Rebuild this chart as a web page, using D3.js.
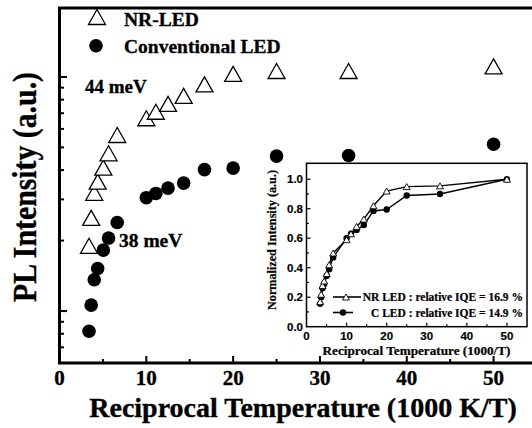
<!DOCTYPE html>
<html>
<head>
<meta charset="utf-8">
<script src="https://cdn.jsdelivr.net/npm/d3@7"></script>
<style>
  body { margin: 0; background: #fff; }
  text { font-family: "Liberation Serif", "Times New Roman", serif; font-weight: bold; fill: #000; stroke: #000; stroke-width: 0.35px; }
  .sans { font-family: "Liberation Sans", Arial, sans-serif; stroke-width: 0.2px; }
</style>
</head>
<body>
<svg id="chart" width="532" height="428"></svg>
<script>
// main plot: reciprocal temperature (1000/T) vs PL intensity (log, a.u.)
var recipTemp = [3.4, 3.65, 4.0, 4.4, 5.05, 5.65, 6.65, 10, 11.1, 12.5, 14.3, 16.7, 20, 25, 33.3, 50];
var nrLed = [1.9, 2.5, 3.2, 3.57, 4.1, 4.72, 5.65, 6.66, 7.1, 7.67, 8.3, 9.3, 10.3, 10.6, 10.6, 11.1];
var convLed = [0.82, 1.06, 1.36, 1.52, 1.82, 2.05, 2.39, 3.05, 3.18, 3.35, 3.52, 4.02, 4.08, 4.59, 4.62, 5.16];
var xTicks = [0, 10, 20, 30, 40, 50];

// inset: normalized intensity
var insetNr = [0.17, 0.22, 0.28, 0.31, 0.36, 0.42, 0.50, 0.59, 0.63, 0.68, 0.73, 0.82, 0.92, 0.95, 0.955, 1.0];
var insetC = [0.155, 0.20, 0.26, 0.29, 0.345, 0.39, 0.47, 0.60, 0.63, 0.655, 0.69, 0.785, 0.795, 0.89, 0.90, 1.0];
var insetYTicks = [0, 0.2, 0.4, 0.6, 0.8, 1.0];
var legendLabels = ["NR-LED", "Conventional LED"];
var insetLegend = ["NR LED : relative IQE = 16.9 %", "C LED : relative IQE = 14.9 %"];
var annotations = ["44 meV", "38 meV"];

(function() {
  var svg = d3.select("#chart");

  var x = d3.scaleLinear().domain([0, 55]).range([59.5, 537]);
  var y = d3.scaleLog().domain([0.6, 19.7]).range([363, 8]);

  function triangle(w, h) {
    return "M0," + (-h / 2) + "L" + (w / 2) + "," + (h / 2) + "L" + (-w / 2) + "," + (h / 2) + "Z";
  }

  // frame (right side runs off the picture)
  svg.append("path")
    .attr("d", "M" + x(55) + "," + y.range()[1] + "L" + x(0) + "," + y.range()[1] + "L" + x(0) + "," + y.range()[0] + "L" + x(55) + "," + y.range()[0])
    .attr("fill", "none").attr("stroke", "#000").attr("stroke-width", 3);

  // y ticks, log minor ticks, no labels
  var yt = [];
  [0.1, 1, 10].forEach(function(d) {
    for (var k = 1; k < 10; k++) {
      var v = d * k;
      if (v >= 0.6 && v <= 19.7) yt.push({v: v, major: k == 1});
    }
  });
  svg.selectAll("line.ytick").data(yt).enter().append("line")
    .attr("class", "ytick")
    .attr("x1", x(0)).attr("x2", d => x(0) + (d.major ? 7.5 : 4.5))
    .attr("y1", d => y(d.v)).attr("y2", d => y(d.v))
    .attr("stroke", "#000").attr("stroke-width", 2);

  // x ticks
  var xt = d3.range(5, 55, 5);
  svg.selectAll("line.xtick").data(xt).enter().append("line")
    .attr("class", "xtick")
    .attr("x1", d => x(d)).attr("x2", d => x(d))
    .attr("y1", 363).attr("y2", d => 363 - (d % 10 == 0 ? 7 : 4))
    .attr("stroke", "#000").attr("stroke-width", 2);

  svg.selectAll("text.xlab").data(xTicks).enter().append("text")
    .attr("class", "xlab")
    .attr("x", d => x(d)).attr("y", 385)
    .attr("text-anchor", "middle").attr("font-size", 21)
    .text(d => d);

  svg.append("text")
    .attr("x", 303).attr("y", 417)
    .attr("text-anchor", "middle").attr("font-size", 28)
    .text("Reciprocal Temperature (1000 K/T)");

  svg.append("text")
    .attr("transform", "translate(36,187) rotate(-90)")
    .attr("text-anchor", "middle").attr("font-size", 33)
    .attr("textLength", 230).attr("lengthAdjust", "spacingAndGlyphs")
    .text("PL Intensity (a.u.)");

  // data
  svg.selectAll("path.nr").data(nrLed).enter().append("path")
    .attr("class", "nr")
    .attr("transform", (d, i) => "translate(" + x(recipTemp[i]) + "," + y(d) + ")")
    .attr("d", triangle(17, 15))
    .attr("fill", "#fff").attr("stroke", "#000").attr("stroke-width", 1.3);

  svg.selectAll("circle.conv").data(convLed).enter().append("circle")
    .attr("class", "conv")
    .attr("cx", (d, i) => x(recipTemp[i])).attr("cy", d => y(d))
    .attr("r", 6.8).attr("fill", "#000");

  // legend
  svg.append("path").attr("transform", "translate(97,17)").attr("d", triangle(17, 15))
    .attr("fill", "#fff").attr("stroke", "#000").attr("stroke-width", 1.3);
  svg.append("circle").attr("cx", 96).attr("cy", 45.7).attr("r", 6.8).attr("fill", "#000");
  svg.selectAll("text.leg").data(legendLabels).enter().append("text")
    .attr("class", "leg")
    .attr("x", 124).attr("y", (d, i) => 26 + i * 26.7)
    .attr("font-size", 19.5)
    .text(d => d);

  svg.append("text").attr("x", 85).attr("y", 93).attr("font-size", 19).text(annotations[0]);
  svg.append("text").attr("x", 119).attr("y", 247).attr("font-size", 19.5).text(annotations[1]);

  // ---- inset ----
  var ix = d3.scaleLinear().domain([0, 55]).range([306.5, 527]);
  var iy = d3.scaleLinear().domain([0, 1.108]).range([326.7, 163.3]);
  var inset = svg.append("g");

  inset.append("rect")
    .attr("x", ix(0)).attr("y", iy(1.108))
    .attr("width", ix(55) - ix(0)).attr("height", iy(0) - iy(1.108))
    .attr("fill", "#fff").attr("stroke", "#000").attr("stroke-width", 1.5);

  inset.selectAll("line.ixt").data(d3.range(5, 55, 5)).enter().append("line")
    .attr("class", "ixt")
    .attr("x1", d => ix(d)).attr("x2", d => ix(d))
    .attr("y1", iy(0)).attr("y2", d => iy(0) - (d % 10 == 0 ? 4 : 2.5))
    .attr("stroke", "#000").attr("stroke-width", 1.2);
  inset.selectAll("line.iyt").data(d3.range(0.1, 1.1, 0.1)).enter().append("line")
    .attr("class", "iyt")
    .attr("x1", ix(0)).attr("x2", (d, i) => ix(0) + (i % 2 == 1 ? 4 : 2.5))
    .attr("y1", d => iy(d)).attr("y2", d => iy(d))
    .attr("stroke", "#000").attr("stroke-width", 1.2);

  inset.selectAll("text.ixl").data(xTicks).enter().append("text")
    .attr("class", "ixl sans")
    .attr("x", d => ix(d)).attr("y", 340)
    .attr("text-anchor", "middle").attr("font-size", 11.5)
    .text(d => d);
  inset.selectAll("text.iyl").data(insetYTicks).enter().append("text")
    .attr("class", "iyl sans")
    .attr("x", 303).attr("y", d => iy(d) + 4)
    .attr("text-anchor", "end").attr("font-size", 11.5)
    .text(d => d3.format(".1f")(d));

  inset.append("text")
    .attr("x", 416.5).attr("y", 354.5)
    .attr("text-anchor", "middle").attr("font-size", 11.5)
    .attr("textLength", 188).attr("lengthAdjust", "spacingAndGlyphs")
    .style("stroke-width", "0.2px")
    .text("Reciprocal Temperature (1000/T)");
  inset.append("text")
    .attr("transform", "translate(276,240) rotate(-90)")
    .attr("text-anchor", "middle").attr("font-size", 12)
    .attr("textLength", 140).attr("lengthAdjust", "spacingAndGlyphs")
    .style("stroke-width", "0.2px")
    .text("Normalized Intensity (a.u.)");

  var line = d3.line().x((d, i) => ix(recipTemp[i])).y(d => iy(d));
  inset.append("path").attr("d", line(insetC))
    .attr("fill", "none").attr("stroke", "#000").attr("stroke-width", 1.4);
  inset.append("path").attr("d", line(insetNr))
    .attr("fill", "none").attr("stroke", "#000").attr("stroke-width", 1.4);

  inset.selectAll("circle.ic").data(insetC).enter().append("circle")
    .attr("class", "ic")
    .attr("cx", (d, i) => ix(recipTemp[i])).attr("cy", d => iy(d))
    .attr("r", 3.2).attr("fill", "#000");
  inset.selectAll("path.in").data(insetNr).enter().append("path")
    .attr("class", "in")
    .attr("transform", (d, i) => "translate(" + ix(recipTemp[i]) + "," + iy(d) + ")")
    .attr("d", triangle(7, 6))
    .attr("fill", "#fff").attr("stroke", "#000").attr("stroke-width", 0.9);

  // inset legend
  var legY = [297, 312.5];
  legY.forEach(function(ly, i) {
    inset.append("line").attr("x1", 333).attr("x2", i == 0 ? 361 : 353)
      .attr("y1", ly).attr("y2", ly)
      .attr("stroke", "#000").attr("stroke-width", 1.6);
    if (i == 0) {
      inset.append("path").attr("transform", "translate(346," + ly + ")").attr("d", triangle(7, 6))
        .attr("fill", "#fff").attr("stroke", "#000").attr("stroke-width", 0.9);
    } else {
      inset.append("circle").attr("cx", 343).attr("cy", ly).attr("r", 3.2).attr("fill", "#000");
    }
    inset.append("text")
      .attr("x", 523).attr("y", ly + 4)
      .attr("text-anchor", "end").attr("font-size", 11.5)
      .style("stroke-width", "0.2px")
      .text(insetLegend[i]);
  });
})();
</script>
</body>
</html>
